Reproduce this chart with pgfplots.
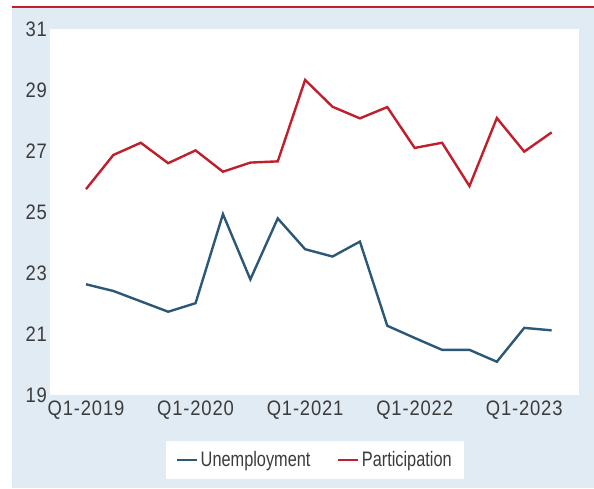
\documentclass[border=0pt]{standalone}
\usepackage{fontspec}
\setmainfont{Liberation Sans}[FakeStretch=0.78]
\newfontfamily\ticklab{Liberation Sans}[FakeStretch=0.88, LetterSpace=4]
\usepackage{pgfplots}
\pgfplotsset{compat=1.18}

\definecolor{panel}{HTML}{E1EBF4}
\definecolor{unemp}{HTML}{2B5877}
\definecolor{partic}{HTML}{C0202B}
\definecolor{labgray}{HTML}{3C3C3C}

% quarterly, Q1-2019 ... Q2-2023
\pgfplotstableread{
q  unemp  partic
0  22.63  25.75
1  22.41  26.87
2  22.07  27.27
3  21.73  26.60
4  22.01  27.02
5  24.93  26.32
6  22.79  26.62
7  24.79  26.66
8  23.78  29.33
9  23.54  28.45
10 24.03  28.07
11 21.27  28.44
12 20.87  27.10
13 20.48  27.27
14 20.48  25.85
15 20.09  28.08
16 21.20  26.98
17 21.12  27.61
}\ratedata

\begin{document}
\begin{tikzpicture}[x=1bp,y=1bp]
\useasboundingbox (-50.4,-94) rectangle (543.6,395);
\fill[white] (-50.4,-94) rectangle (543.6,395);
\fill[panel] (-37.9,-93) rectangle (543.6,387.5);
\draw[partic, line width=2bp] (-37.9,387.5) -- (543.6,387.5);
\begin{axis}[
  at={(0,0)}, anchor=south west,
  scale only axis, width=528.6bp, height=366bp,
  xmin=-1.3, xmax=18, ymin=19, ymax=31,
  axis line style={draw=none},
  axis background/.style={fill=white},
  major tick length=0pt,
  ytick={19,21,...,31},
  xtick={0,4,8,12,16},
  xticklabels={Q1-2019,Q1-2020,Q1-2021,Q1-2022,Q1-2023},
  tick label style={font=\ticklab\fontsize{21}{24}\selectfont, text=labgray},
  xticklabel style={yshift=-2bp},
  /pgf/number format/assume math mode=true,
  legend columns=2,
  legend style={at={(0.5006,-0.1776)}, anchor=center, draw=none, fill=white,
    font=\fontsize{21}{24}\selectfont, text=labgray,
    inner xsep=10bp, inner ysep=6.5bp,
    nodes={inner xsep=2.5bp, inner ysep=4bp},
    /tikz/every even column/.append style={column sep=24bp}},
  legend image code/.code={\draw[#1] (0bp,0bp) -- (20bp,0bp);},
]
\addplot[unemp, line width=2.4bp] table[x=q, y=unemp] {\ratedata};
\addlegendentry{Unemployment}
\addplot[partic, line width=2.4bp] table[x=q, y=partic] {\ratedata};
\addlegendentry{Participation}
\end{axis}
\end{tikzpicture}
\end{document}
